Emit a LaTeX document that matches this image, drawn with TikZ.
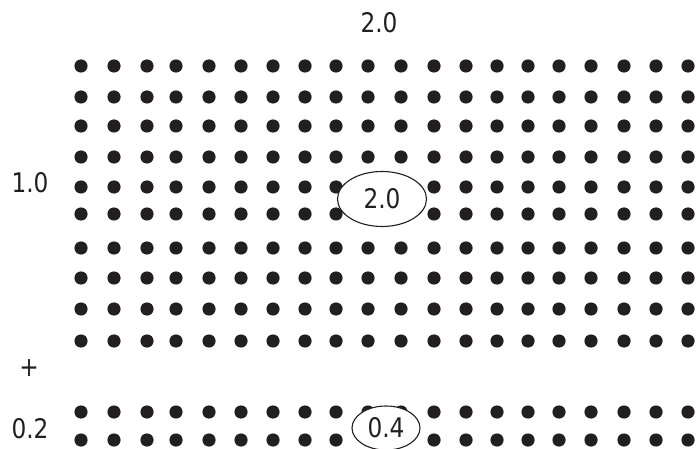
\documentclass[tikz,border=0pt]{standalone}
\usepackage{fontspec}
\setmainfont{DejaVu Sans}[FakeStretch=0.86]
\usetikzlibrary{shapes.geometric}
\definecolor{ink}{HTML}{231F20}
\tikzset{
  lbl/.style={text=ink, font=\fontsize{27}{30}\selectfont, inner sep=0pt},
  oval/.style={ellipse, draw=ink, line width=1.1pt, fill=white, inner sep=0pt,
               font=\fontsize{27}{30}\selectfont, text=ink},
  dot/.style={fill=ink}
}
\begin{document}
\begin{tikzpicture}[x=1pt,y=-1pt]
\useasboundingbox (0,0) rectangle (696,449);
% main grid
\foreach \x in {81,114,147,176,209,241,273,305,336,368,401,434,466,497,528,559,591,624,656,688}{
  \foreach \y in {66,97,126,157,187,214,248,278,309,341,412,440}{
    \fill[dot] (\x,\y) circle[radius=6.6];
  }
}
\node[lbl] (top) at (379,23) {2.0};
\node[lbl] (one) at (30,183) {1.0};
\node[lbl] (plus) at (29,368) {+};
\node[lbl] (pt2) at (30,429) {0.2};
\node[oval, minimum width=89, minimum height=55] (e1) at (382,199) {2.0};
\node[oval, minimum width=68, minimum height=44] (e2) at (386,428) {0.4};
\end{tikzpicture}
\end{document}
